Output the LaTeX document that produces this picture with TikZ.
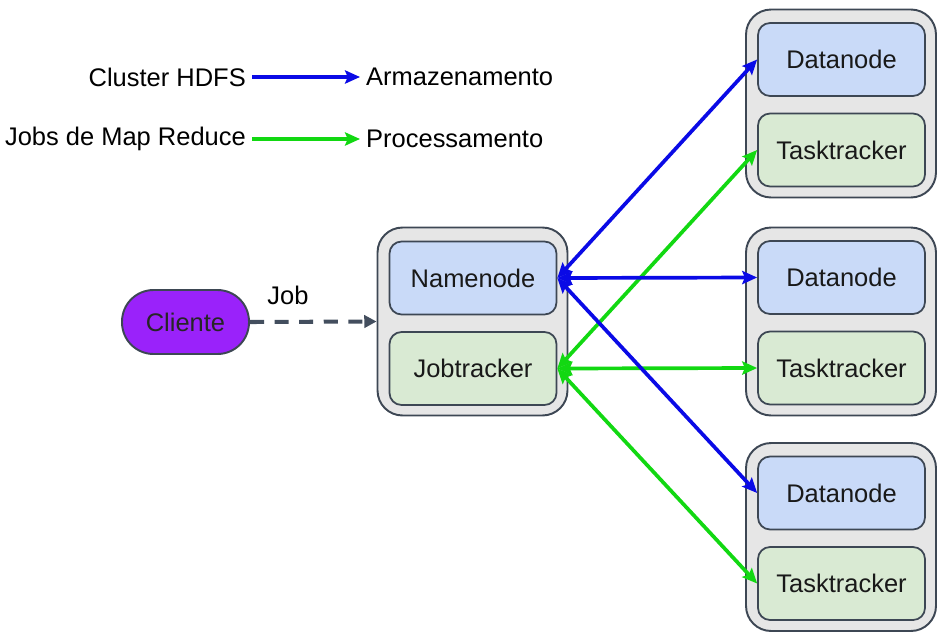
\documentclass[tikz,border=0pt]{standalone}
\usepackage{fontspec}
\setmainfont{Liberation Sans}
\usetikzlibrary{arrows.meta}
\definecolor{borda}{HTML}{3D4754}
\definecolor{caixa}{HTML}{E6E6E6}
\definecolor{azulclaro}{HTML}{C9DAF8}
\definecolor{verdeclaro}{HTML}{D9EAD3}
\definecolor{roxo}{HTML}{9A22FA}
\definecolor{azul}{HTML}{0A0AE6}
\definecolor{verde}{HTML}{12D812}
\definecolor{tracejado}{HTML}{434E5E}
\tikzset{
  grupo/.style={draw=borda, line width=1.1pt, fill=caixa, rounded corners=0.5cm,
    minimum width=3.8cm, minimum height=3.76cm},
  dados/.style={draw=borda, line width=1pt, fill=azulclaro, rounded corners=0.24cm,
    minimum width=3.34cm, minimum height=1.46cm, text=black!90},
  tarefa/.style={dados, fill=verdeclaro},
  hdfs/.style={<->, azul, line width=2.1pt},
  mapred/.style={<->, verde, line width=2.1pt}
}
\begin{document}
\begin{tikzpicture}[x=0.02cm,y=-0.02cm,>={Stealth[length=8.5pt,width=7.5pt,inset=1.5pt]},
  font=\fontsize{14.5}{17}\selectfont]
   \useasboundingbox (0,0) rectangle (942,632);

   % legenda
   \node [anchor=east] (cluster) at (252,77) {Cluster HDFS};
   \node [anchor=west] (armaz) at (360,77) {Armazenamento};
   \node [anchor=east] (jobsmr) at (252,139) {Jobs de Map Reduce};
   \node [anchor=west] (proc) at (360,139) {Processamento};
   \draw[->, azul, line width=2.1pt] (cluster.east) -- (armaz.west);
   \draw[->, verde, line width=2.1pt] (jobsmr.east) -- (proc.west);

   % mestre
   \node [grupo] (mestre) at (472.5,321.5) {};
   \node [dados] (namenode) at (473,278) {Namenode};
   \node [tarefa] (jobtracker) at (473,368.5) {Jobtracker};

   % escravos
   \foreach \i/\y in {1/103.5, 2/321.5, 3/537} {
     \node [grupo] (escravo\i) at (841,\y) {};
     \node [dados] (datanode\i) at (841.5,\y-44) {Datanode};
     \node [tarefa] (tasktracker\i) at (841.5,\y+46.5) {Tasktracker};
   }

   % cliente
   \node [draw=borda, line width=1.1pt, fill=roxo, rounded corners=0.63cm,
     minimum width=2.54cm, minimum height=1.28cm, text=black!85] (cliente) at (185.5,322) {Cliente};
   \draw[-{Triangle[length=7pt,width=7pt]}, tracejado, line width=2.3pt,
     dash pattern=on 8pt off 6pt] (cliente.east) -- (mestre.west)
     node[pos=0.3, above=5pt, text=black] {Job};

   \foreach \i in {1,2,3} {
     \draw[hdfs] (namenode.east) -- (datanode\i.west);
     \draw[mapred] (jobtracker.east) -- (tasktracker\i.west);
   }
\end{tikzpicture}
\end{document}
